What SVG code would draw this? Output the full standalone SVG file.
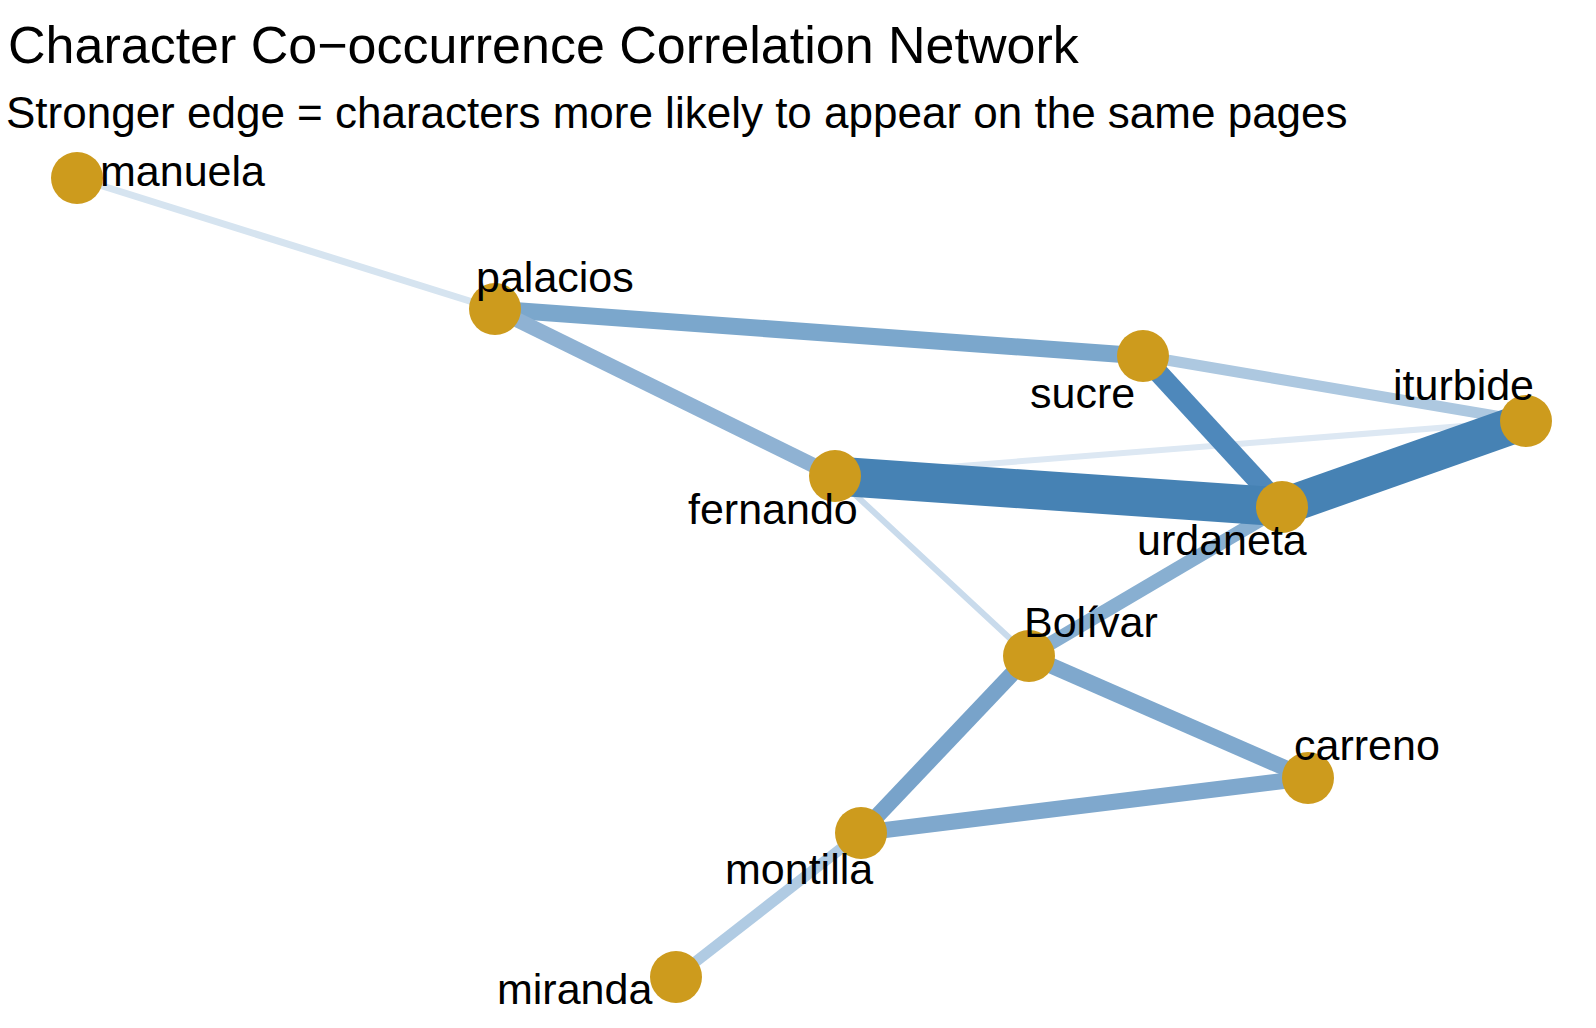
<svg xmlns="http://www.w3.org/2000/svg" width="1596" height="1028" viewBox="0 0 1596 1028">
<style>
text{font-family:"Liberation Sans",Arial,sans-serif;fill:#000}
.lbl{font-size:43px}
.n{fill:#cd9b1d}
line{stroke-linecap:butt}
</style>
<rect width="1596" height="1028" fill="#fff"/>
<text x="8" y="63" font-size="52">Character Co−occurrence Correlation Network</text>
<text x="6" y="128" font-size="44">Stronger edge = characters more likely to appear on the same pages</text>
<g id="edges">
<line x1="77" y1="178" x2="495" y2="309" stroke="#d6e4f0" stroke-width="7"/>
<line x1="835" y1="476" x2="1526" y2="421" stroke="#dde8f3" stroke-width="6"/>
<line x1="835" y1="476" x2="1029" y2="656" stroke="#c9dbec" stroke-width="6"/>
<line x1="1143" y1="356" x2="1526" y2="421" stroke="#adc8e0" stroke-width="11"/>
<line x1="495" y1="309" x2="1143" y2="356" stroke="#7ba7cc" stroke-width="17"/>
<line x1="495" y1="309" x2="835" y2="476" stroke="#8fb2d3" stroke-width="15"/>
<line x1="1143" y1="356" x2="1282" y2="507" stroke="#4e88bb" stroke-width="20"/>
<line x1="1282" y1="507" x2="1029" y2="656" stroke="#88afd1" stroke-width="14"/>
<line x1="1029" y1="656" x2="1308" y2="778" stroke="#7fa8cd" stroke-width="16"/>
<line x1="1029" y1="656" x2="861" y2="833" stroke="#78a3ca" stroke-width="16"/>
<line x1="861" y1="833" x2="1308" y2="778" stroke="#7fa8cd" stroke-width="16"/>
<line x1="861" y1="833" x2="676" y2="977" stroke="#b0cbe3" stroke-width="11"/>
<line x1="835" y1="476" x2="1282" y2="507" stroke="#4682b4" stroke-width="39"/>
<line x1="1282" y1="507" x2="1526" y2="421" stroke="#4682b4" stroke-width="37"/>
</g>
<g id="manuela"><circle class="n" cx="77" cy="178" r="26"/><text class="lbl" x="100" y="186">manuela</text></g>
<g id="palacios"><circle class="n" cx="495" cy="309" r="26"/><text class="lbl" x="476" y="292">palacios</text></g>
<g id="sucre"><circle class="n" cx="1143" cy="356" r="26"/><text class="lbl" x="1030" y="408">sucre</text></g>
<g id="iturbide"><circle class="n" cx="1526" cy="421" r="26"/><text class="lbl" x="1393" y="400">iturbide</text></g>
<g id="fernando"><circle class="n" cx="835" cy="476" r="26"/><text class="lbl" x="688" y="524">fernando</text></g>
<g id="urdaneta"><circle class="n" cx="1282" cy="507" r="26"/><text class="lbl" x="1137" y="555">urdaneta</text></g>
<g id="bolivar"><circle class="n" cx="1029" cy="656" r="26"/><text class="lbl" x="1024" y="637">Bolívar</text></g>
<g id="carreno"><circle class="n" cx="1308" cy="778" r="26"/><text class="lbl" x="1294" y="760">carreno</text></g>
<g id="montilla"><circle class="n" cx="861" cy="833" r="26"/><text class="lbl" x="725" y="884">montilla</text></g>
<g id="miranda"><circle class="n" cx="676" cy="977" r="26"/><text class="lbl" x="497" y="1004">miranda</text></g>
</svg>
